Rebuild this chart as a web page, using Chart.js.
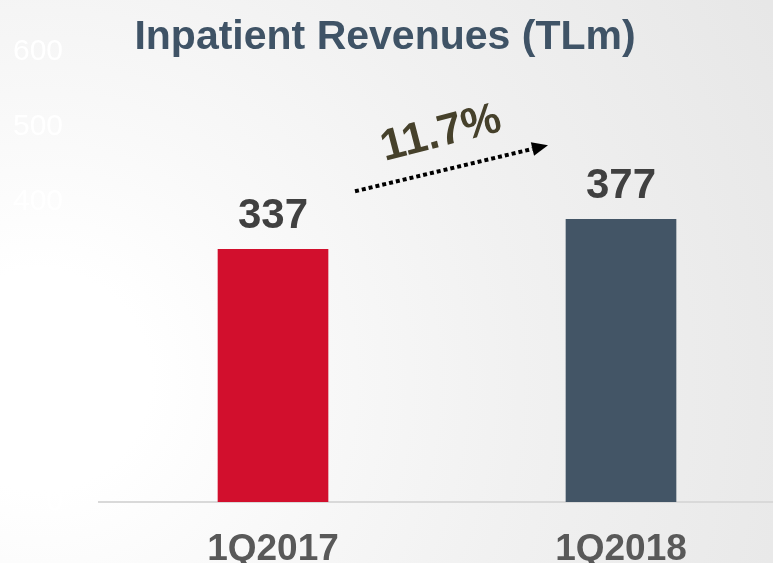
<!DOCTYPE html>
<html>
<head>
<meta charset="utf-8">
<script src="https://cdn.jsdelivr.net/npm/chart.js@4/dist/chart.umd.min.js"></script>
<style>
  html, body { margin: 0; padding: 0; overflow: hidden; }
  body {
    width: 773px; height: 563px;
    background: radial-gradient(circle at 40px 380px, #ffffff 0px, #ffffff 110px, #f9f9f9 260px, #f1f1f1 480px, #e7e7e7 820px);
  }
  #wrap { width: 800px; height: 563px; }
</style>
</head>
<body>
<div id="wrap"><canvas id="chart" width="800" height="563"></canvas></div>
<script>
const categories = ['1Q2017', '1Q2018'];
const revenues = [337, 377];
const barColors = ['#d20f2d', '#435566'];
const yTicks = [0, 100, 200, 300, 400, 500, 600];
const titleText = 'Inpatient Revenues (TLm)';
const growthText = '11.7%';

const font = '"Liberation Sans", Arial, sans-serif';

// title, value labels, growth arrow
const decorations = {
  id: 'decorations',
  afterDatasetsDraw(chart) {
    const { ctx, scales: { x, y } } = chart;
    ctx.save();

    ctx.fillStyle = '#3f5366';
    ctx.font = `bold 41px ${font}`;
    ctx.textAlign = 'center';
    ctx.textBaseline = 'alphabetic';
    ctx.fillText(titleText, 385, 49);

    ctx.fillStyle = '#404040';
    ctx.font = `bold 42px ${font}`;
    revenues.forEach((v, i) => {
      ctx.fillText(String(v), x.getPixelForValue(i), y.getPixelForValue(v) - 21);
    });

    // arrow between the two bars
    const x0 = x.getPixelForValue(0) + 82;
    const y0 = y.getPixelForValue(revenues[0]) - 58;
    const x1 = x.getPixelForValue(1) - 73;
    const y1 = y.getPixelForValue(revenues[1]) - 74;
    const ang = Math.atan2(y1 - y0, x1 - x0);
    const head = 16;
    const lx = x1 - Math.cos(ang) * head;
    const ly = y1 - Math.sin(ang) * head;

    ctx.strokeStyle = '#000000';
    ctx.lineWidth = 4;
    ctx.setLineDash([4, 3]);
    ctx.beginPath();
    ctx.moveTo(x0, y0);
    ctx.lineTo(lx, ly);
    ctx.stroke();
    ctx.setLineDash([]);

    ctx.fillStyle = '#000000';
    ctx.beginPath();
    ctx.moveTo(x1, y1);
    ctx.lineTo(lx + Math.sin(ang) * 7, ly - Math.cos(ang) * 7);
    ctx.lineTo(lx - Math.sin(ang) * 7, ly + Math.cos(ang) * 7);
    ctx.closePath();
    ctx.fill();

    ctx.translate(441, 134);
    ctx.rotate(ang - 0.02);
    ctx.fillStyle = '#46412b';
    ctx.font = `bold 44px ${font}`;
    ctx.textBaseline = 'middle';
    ctx.fillText(growthText, 0, 0);

    ctx.restore();
  },
};

new Chart(document.getElementById('chart').getContext('2d'), {
  type: 'bar',
  data: {
    labels: categories,
    datasets: [{
      data: revenues,
      backgroundColor: barColors,
      barThickness: 110,
    }],
  },
  options: {
    responsive: false,
    animation: false,
    devicePixelRatio: 1,
    layout: { padding: { top: 52, right: 5, left: 0, bottom: 0 } },
    plugins: {
      legend: { display: false },
      tooltip: { enabled: false },
    },
    scales: {
      x: {
        grid: { display: false },
        border: { display: true, color: '#d9d9d9', width: 2 },
        ticks: {
          color: '#595959',
          font: { family: font, size: 37, weight: 'bold' },
          padding: 18,
        },
        afterFit: (scale) => { scale.height = 61; },
      },
      y: {
        min: 0,
        max: 600,
        grid: { display: false },
        border: { display: false },
        afterBuildTicks: (scale) => { scale.ticks = yTicks.map((v) => ({ value: v })); },
        ticks: {
          color: '#ffffff',
          font: { family: font, size: 30 },
          padding: 28,
        },
        afterFit: (scale) => { scale.width = 99; },
      },
    },
  },
  plugins: [decorations],
});
</script>
</body>
</html>
